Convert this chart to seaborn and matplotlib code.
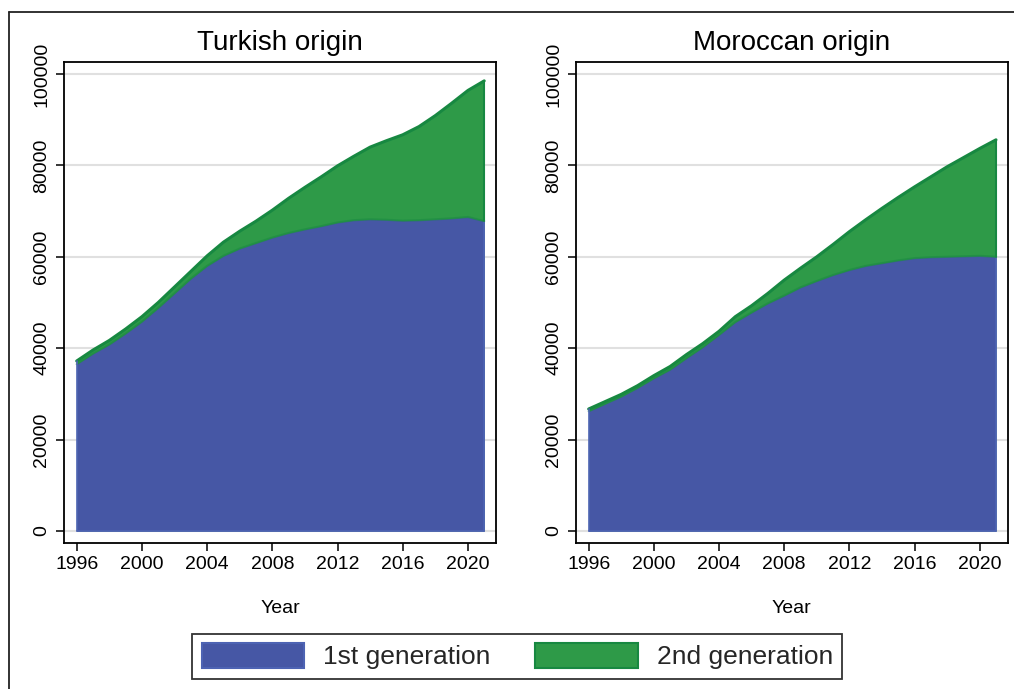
import numpy as np
import pandas as pd
import matplotlib
matplotlib.use("Agg")
import matplotlib.pyplot as plt
import seaborn as sns
from matplotlib.patches import Patch
from matplotlib.lines import Line2D

years = list(range(1996, 2022))

turkish_first = [36500, 38800, 40800, 43200, 45800, 48800, 52000, 55200, 58000, 60200,
                 61800, 63000, 64200, 65200, 66000, 66700, 67500, 68000, 68200, 68100,
                 67900, 68000, 68200, 68400, 68700, 67800]
turkish_total = [37200, 39600, 41700, 44200, 46900, 50000, 53400, 56800, 60200, 63200,
                 65600, 67800, 70200, 72800, 75200, 77500, 79900, 82000, 84000, 85400,
                 86700, 88500, 90900, 93600, 96400, 98500]
moroccan_first = [26200, 27800, 29400, 31300, 33400, 35300, 37800, 40200, 42900, 45700,
                  47800, 49800, 51500, 53300, 54700, 56000, 57100, 58000, 58600, 59200,
                  59700, 59900, 60000, 60100, 60200, 60000]
moroccan_total = [26700, 28300, 29900, 31800, 34000, 36000, 38600, 41000, 43700, 46900,
                  49300, 52000, 54900, 57500, 60000, 62700, 65500, 68100, 70600, 73000,
                  75300, 77500, 79700, 81700, 83700, 85600]

titles = ["Turkish origin", "Moroccan origin"]
legend_labels = ["1st generation", "2nd generation"]
y_ticks = [0, 20000, 40000, 60000, 80000, 100000]
x_ticks = [1996, 2000, 2004, 2008, 2012, 2016, 2020]

sns.set_theme(style="white")
plt.rcParams['font.family'] = ['Liberation Sans', 'DejaVu Sans']

BLUE = "#4657A5"
BLUE_EDGE = "#4D63B3"
GREEN = "#2E9A48"
GREEN_EDGE = "#178841"

fig = plt.figure(figsize=(10.14, 6.89), dpi=100)
axes_pos = [[0.0631, 0.2119, 0.4260, 0.6981], [0.5680, 0.2119, 0.4258, 0.6981]]

datasets = [(turkish_first, turkish_total), (moroccan_first, moroccan_total)]

for pos, title, (first, total) in zip(axes_pos, titles, datasets):
    ax = fig.add_axes(pos)
    df = pd.DataFrame({"Year": years, "first": first, "total": total})
    for yt in y_ticks:
        ax.axhline(yt, color="#E0E0E0", lw=1.5, zorder=0)
    ax.fill_between(df["Year"], df["total"], 0, color=GREEN, lw=0, zorder=1)
    sns.lineplot(data=df, x="Year", y="total", ax=ax, color=GREEN_EDGE, lw=2.2, zorder=2)
    ax.fill_between(df["Year"], df["first"], 0, color=BLUE, lw=0, zorder=3)
    sns.lineplot(data=df, x="Year", y="first", ax=ax, color=GREEN_EDGE, lw=1.6, alpha=0.5, zorder=4)
    ax.plot([years[0], years[0]], [0, total[0]], color=BLUE_EDGE, lw=1.2, zorder=5)
    ax.plot([years[-1], years[-1]], [0, first[-1]], color=BLUE_EDGE, lw=1.2, zorder=5)
    ax.plot([years[-1], years[-1]], [first[-1], total[-1]], color=GREEN_EDGE, lw=1.5, zorder=5)
    ax.plot([years[0], years[-1]], [0, 0], color=BLUE_EDGE, lw=1.2, zorder=5)

    ax.set_xlim(1995.22, 2021.72)
    ax.set_ylim(-2626, 102626)
    ax.set_xticks(x_ticks)
    ax.set_yticks(y_ticks)
    ax.set_yticklabels([str(v) for v in y_ticks], rotation=90, va="center")
    ax.tick_params(axis="both", which="major", labelsize=14, length=6, width=1.1,
                   color="black", direction="out", bottom=True, left=True)
    ax.tick_params(axis="x", pad=3)
    ax.tick_params(axis="y", pad=4)
    ax.set_xlabel("Year", fontsize=14, labelpad=20, color="black")
    ax.set_ylabel("")
    ax.set_title(title, fontsize=20, pad=9, color="black")
    for s in ax.spines.values():
        s.set_color("black")
        s.set_linewidth(1.3)
        s.set_visible(True)
    for lbl in ax.get_xticklabels() + ax.get_yticklabels():
        lbl.set_color("black")

handles = [Patch(facecolor=BLUE, edgecolor=BLUE_EDGE, lw=1.5),
           Patch(facecolor=GREEN, edgecolor=GREEN_EDGE, lw=1.5)]
leg = fig.legend(handles, legend_labels, loc="center", bbox_to_anchor=(0.51, 0.0475),
                 ncol=2, fontsize=19, frameon=True, fancybox=False, handlelength=3.9,
                 handleheight=1.05, columnspacing=1.7, handletextpad=0.7, borderpad=0.35,
                 edgecolor="black")
leg.get_frame().set_linewidth(1.3)

fig.add_artist(Line2D([9/1014, 1.0], [1 - 12/689, 1 - 12/689], color="#222222", lw=1.3,
                      transform=fig.transFigure))
fig.add_artist(Line2D([9/1014, 9/1014], [0.0, 1 - 12/689], color="#222222", lw=1.3,
                      transform=fig.transFigure))

fig.savefig("out.png", dpi=100)
